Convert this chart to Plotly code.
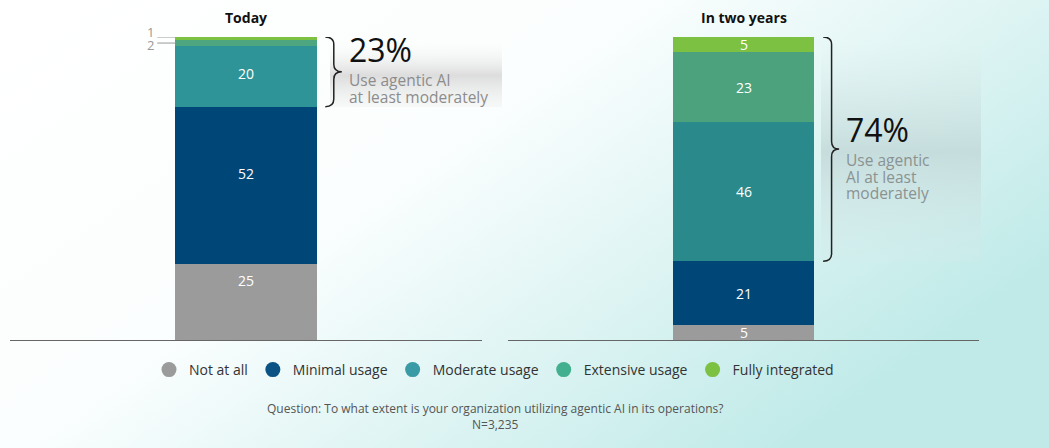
import urllib.parse
import plotly.graph_objects as go

categories = ["Not at all", "Minimal usage", "Moderate usage", "Extensive usage", "Fully integrated"]
today = [25, 52, 20, 2, 1]
two_years = [5, 21, 46, 23, 5]
panels = ["Today", "In two years"]
headline = ["23%", "74%"]
subline_today = ["Use agentic AI", "at least moderately"]
subline_two = ["Use agentic", "AI at least", "moderately"]
small_labels = ["2", "1"]
question = "Question: To what extent is your organization utilizing agentic AI in its operations?"
sample = "N=3,235"

colors_today = ["#9b9b9c", "#004677", "#2e9497", "#4ea680", "#7cc142"]
colors_two = ["#9b9b9c", "#004677", "#2a898b", "#4ca27d", "#7cc142"]
legend_colors = ["#9b9b9c", "#0a5384", "#3a9aa6", "#42b08e", "#7cc142"]

W, H = 1049, 448
ML, MR, MT, MB = 10, 70, 37, 108
PW, PH = W - ML - MR, H - MT - MB
FONT = "Open Sans"


def px_x(p):
    return (p - ML) / PW


def px_y(p):
    return (H - MB - p) / PH


def svg_uri(svg):
    return "data:image/svg+xml;charset=utf-8," + urllib.parse.quote(svg)


bg_svg = (
    '<svg xmlns="http://www.w3.org/2000/svg" width="1049" height="448" preserveAspectRatio="none">'
    '<defs><linearGradient id="g" x1="0" y1="0" x2="1" y2="0.6">'
    '<stop offset="0" stop-color="#ffffff"/><stop offset="0.45" stop-color="#fbfefe"/>'
    '<stop offset="1" stop-color="#bfeae8"/></linearGradient></defs>'
    '<rect width="1049" height="448" fill="url(#g)"/></svg>'
)

box_left_svg = (
    '<svg xmlns="http://www.w3.org/2000/svg" width="172" height="70" preserveAspectRatio="none">'
    '<defs><linearGradient id="v" x1="0" y1="0" x2="0" y2="1">'
    '<stop offset="0" stop-color="#ffffff" stop-opacity="0"/>'
    '<stop offset="0.55" stop-color="#d9d9d9" stop-opacity="0.9"/>'
    '<stop offset="1" stop-color="#ececec" stop-opacity="0.3"/></linearGradient></defs>'
    '<rect width="172" height="70" fill="url(#v)"/></svg>'
)

box_right_svg = (
    '<svg xmlns="http://www.w3.org/2000/svg" width="160" height="220" preserveAspectRatio="none">'
    '<defs><linearGradient id="v" x1="0" y1="0" x2="0" y2="1">'
    '<stop offset="0" stop-color="#d9e8e8" stop-opacity="0"/>'
    '<stop offset="0.5" stop-color="#c3d9d9" stop-opacity="0.85"/>'
    '<stop offset="1" stop-color="#d6eaea" stop-opacity="0.2"/></linearGradient></defs>'
    '<rect width="160" height="220" fill="url(#v)"/></svg>'
)

fig = go.Figure()

annotations = []

# bars; value labels as annotations (the "Today" labels sit a bit above centre)
for vals, cols, xa, ya, squeeze in [(today, colors_today, "x", "y", 0.92),
                                    (two_years, colors_two, "x2", "y2", 1.0)]:
    cum = 0
    for i, cat in enumerate(categories):
        fig.add_trace(go.Bar(
            x=[0], y=[vals[i]], name=cat, xaxis=xa, yaxis=ya,
            marker=dict(color=cols[i], line_width=0),
            width=0.3, showlegend=False, hoverinfo="skip",
        ))
        mid = cum + vals[i] / 2
        cum += vals[i]
        if vals[i] >= 5:
            annotations.append(dict(xref=xa, yref=ya, x=0, y=100 - squeeze * (100 - mid),
                                    text=str(vals[i]), showarrow=False,
                                    xanchor="center", yanchor="middle",
                                    font=dict(size=14, color="white", family=FONT)))

for i, cat in enumerate(categories):
    fig.add_trace(go.Scatter(
        x=[None], y=[None], mode="markers", name=cat,
        marker=dict(symbol="circle", size=15, color=legend_colors[i]),
        showlegend=True,
    ))


def brace(x0, xm, xt, ybot, ytop, r):
    ymid = (ybot + ytop) / 2
    return (f"M {x0},{ytop} Q {xm},{ytop} {xm},{ytop - r} L {xm},{ymid + r} "
            f"Q {xm},{ymid} {xt},{ymid} Q {xm},{ymid} {xm},{ymid - r} "
            f"L {xm},{ybot + r} Q {xm},{ybot} {x0},{ybot}")


shapes = []
t_low = today[0] + today[1]
w_low = two_years[0] + two_years[1]
shapes.append(dict(type="path", xref="x", yref="y",
                   path=brace(0.168, 0.186, 0.203, t_low, 100, 2.5),
                   line=dict(color="#222", width=1.5)))
shapes.append(dict(type="path", xref="x2", yref="y2",
                   path=brace(0.169, 0.187, 0.203, w_low, 100, 2.5),
                   line=dict(color="#222", width=1.5)))

# leader lines and labels for the two thin segments
cum_ext = sum(today[:3]) + today[3] / 2
cum_full = sum(today)
for lab, yv, dy in [(small_labels[0], cum_ext, 1.5), (small_labels[1], cum_full, -5.5)]:
    shapes.append(dict(type="line", xref="x", yref="y",
                       x0=-0.188, x1=-0.15, y0=yv, y1=yv,
                       line=dict(color="#9a9a9a", width=1)))
    ypix = (H - MB) - yv * PH / 100 + dy
    annotations.append(dict(xref="x", yref="paper", x=-0.19, y=px_y(ypix),
                            text=lab, showarrow=False, xanchor="right", yanchor="middle",
                            font=dict(size=13, color="#999999", family=FONT)))

for xa, title in zip(["x", "x2"], panels):
    annotations.append(dict(xref=xa, yref="paper", x=0, y=px_y(17), text=f"<b>{title}</b>",
                            showarrow=False, yanchor="middle",
                            font=dict(size=14, color="#111", family=FONT)))

annotations.append(dict(xref="x", yref="paper", x=0.214, y=px_y(50), text=headline[0],
                        showarrow=False, xanchor="left", yanchor="middle",
                        font=dict(size=32, color="#111", family=FONT)))
for j, line in enumerate(subline_today):
    annotations.append(dict(xref="x", yref="paper", x=0.214, y=px_y(80 + 16.5 * j), text=line,
                            showarrow=False, xanchor="left", yanchor="middle",
                            font=dict(size=15.5, color="#8c8c8c", family=FONT)))

annotations.append(dict(xref="x2", yref="paper", x=0.213, y=px_y(129), text=headline[1],
                        showarrow=False, xanchor="left", yanchor="middle",
                        font=dict(size=32, color="#111", family=FONT)))
for j, line in enumerate(subline_two):
    annotations.append(dict(xref="x2", yref="paper", x=0.213, y=px_y(160 + 16.5 * j), text=line,
                            showarrow=False, xanchor="left", yanchor="middle",
                            font=dict(size=15.5, color="#8a9292", family=FONT)))

annotations.append(dict(xref="paper", yref="paper", x=px_x(495), y=px_y(416),
                        text=f"{question}<br>{sample}", showarrow=False,
                        xanchor="center", yanchor="middle",
                        font=dict(size=12, color="#555", family=FONT)))

images = [
    dict(source=svg_uri(bg_svg), xref="paper", yref="paper", x=px_x(0), y=px_y(0),
         sizex=W / PW, sizey=H / PH, xanchor="left", yanchor="top",
         sizing="stretch", layer="below"),
    dict(source=svg_uri(box_left_svg), xref="paper", yref="paper", x=px_x(330), y=px_y(37),
         sizex=172 / PW, sizey=70 / PH, xanchor="left", yanchor="top",
         sizing="stretch", layer="below"),
    dict(source=svg_uri(box_right_svg), xref="paper", yref="paper", x=px_x(821), y=px_y(42),
         sizex=160 / PW, sizey=220 / PH, xanchor="left", yanchor="top",
         sizing="stretch", layer="below"),
]

axis_common = dict(range=[-0.5, 0.5], showgrid=False, zeroline=False, showticklabels=False,
                   ticks="", showline=True, linecolor="#666", linewidth=1, fixedrange=True)
yaxis_common = dict(range=[0, 100], showgrid=False, zeroline=False, showticklabels=False,
                    ticks="", showline=False, fixedrange=True)

fig.update_layout(
    width=W, height=H,
    margin=dict(l=ML, r=MR, t=MT, b=MB),
    barmode="stack",
    bargap=0,
    paper_bgcolor="rgba(0,0,0,0)",
    plot_bgcolor="rgba(0,0,0,0)",
    font=dict(family=FONT, color="#333"),
    xaxis=dict(domain=[0, px_x(482)], **axis_common),
    xaxis2=dict(domain=[px_x(508), 1], **axis_common),
    yaxis=dict(anchor="x", **yaxis_common),
    yaxis2=dict(anchor="x2", **yaxis_common),
    shapes=shapes,
    annotations=annotations,
    images=images,
    legend=dict(orientation="h", x=px_x(494), xanchor="center", y=px_y(370), yanchor="middle",
                font=dict(size=14, color="#333", family=FONT), bgcolor="rgba(0,0,0,0)",
                itemclick=False, traceorder="normal"),
)

fig.write_html("out.html", config={"displayModeBar": False},
               post_script="document.body.style.margin='0';document.body.style.overflow='hidden';")
